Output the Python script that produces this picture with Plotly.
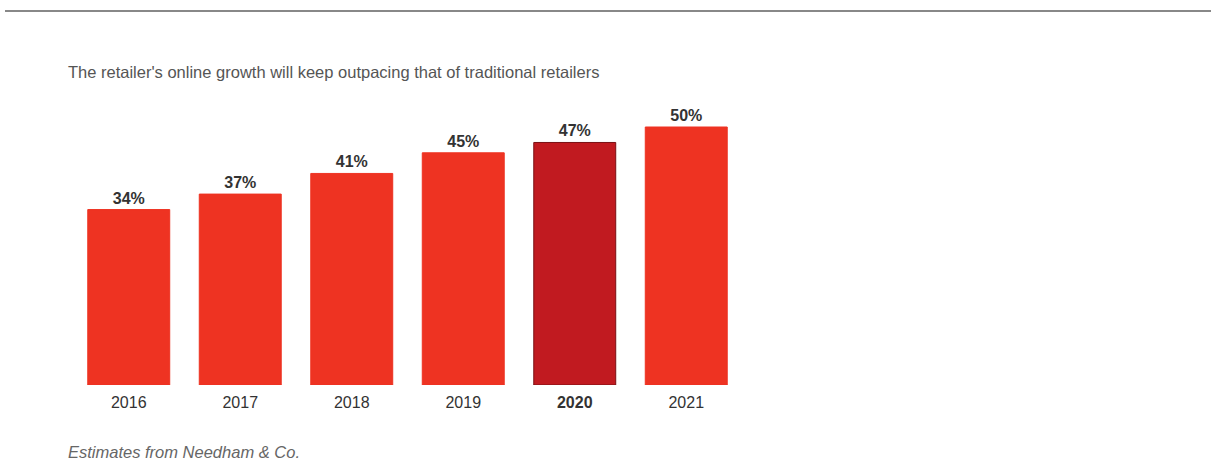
import plotly.graph_objects as go

years = ["2016", "2017", "2018", "2019", "2020", "2021"]
values = [34, 37, 41, 45, 47, 50]
tick_labels = ["2016", "2017", "2018", "2019", "<b>2020</b>", "2021"]
labels = [f"{v}%" for v in values]
highlight = "2020"

W, H = 1211, 464
colors = ["#C11A20" if y == highlight else "#EE3322" for y in years]
line_colors = ["#7A1014" if y == highlight else "#EE3322" for y in years]

fig = go.Figure(go.Bar(
    x=years, y=values, text=labels, textposition="outside",
    textfont=dict(family="Liberation Sans, Arial, sans-serif", size=16, color="#333333"),
    marker=dict(color=colors, line=dict(color=line_colors, width=1)),
    width=0.735, cliponaxis=False, texttemplate="<b>%{text}</b>",
))

x0, x1 = 73 / W, 742 / W
yb = (H - 385) / H
yt = (H - 75.4) / H

fig.update_layout(
    width=W, height=H, margin=dict(l=0, r=0, t=0, b=0),
    paper_bgcolor="white", plot_bgcolor="white", showlegend=False,
    font=dict(family="Liberation Sans, Arial, sans-serif", color="#333333"),
    xaxis=dict(domain=[x0, x1], tickvals=years, ticktext=tick_labels,
               tickfont=dict(size=16, color="#333333"), showgrid=False,
               showline=False, ticks="", ticklabelstandoff=6),
    yaxis=dict(domain=[yb, yt], range=[0, 60], visible=False, showgrid=False),
    shapes=[dict(type="line", xref="paper", yref="paper", x0=5 / W, x1=1,
                 y0=(H - 11) / H, y1=(H - 11) / H,
                 line=dict(color="#888888", width=2))],
    annotations=[
        dict(text="The retailer's online growth will keep outpacing that of traditional retailers",
             xref="paper", yref="paper", x=66 / W, y=(H - 72) / H,
             xanchor="left", yanchor="middle", showarrow=False,
             font=dict(size=16.5, color="#555555")),
        dict(text="<i>Estimates from Needham & Co.</i>",
             xref="paper", yref="paper", x=66 / W, y=(H - 452) / H,
             xanchor="left", yanchor="middle", showarrow=False,
             font=dict(size=16.5, color="#666666")),
    ],
)

fig.write_html("out.html")
